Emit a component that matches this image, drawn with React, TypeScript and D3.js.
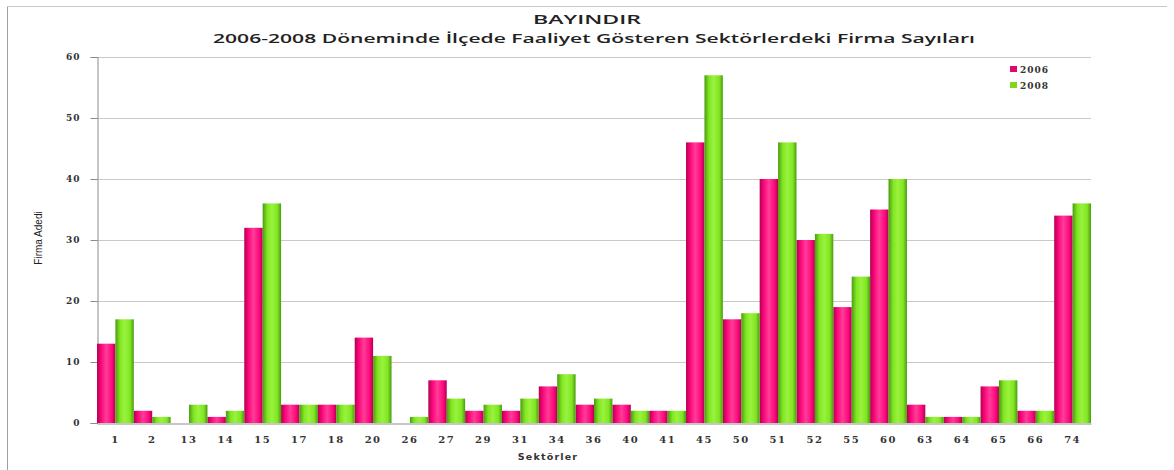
import * as d3 from "d3";
import { useEffect, useRef } from "react";

const sectors = ["1", "2", "13", "14", "15", "17", "18", "20", "26", "27", "29", "31", "34", "36", "40", "41", "45", "50", "51", "52", "55", "60", "63", "64", "65", "66", "74"];
const values2006 = [13, 2, 0, 1, 32, 3, 3, 14, 0, 7, 2, 2, 6, 3, 3, 2, 46, 17, 40, 30, 19, 35, 3, 1, 6, 2, 34];
const values2008 = [17, 1, 3, 2, 36, 3, 3, 11, 1, 4, 3, 4, 8, 4, 2, 2, 57, 18, 46, 31, 24, 40, 1, 1, 7, 2, 36];
const seriesNames = ["2006", "2008"];
const yTicks = [0, 10, 20, 30, 40, 50, 60];

export default function App() {
  const ref = useRef<SVGSVGElement>(null);

  useEffect(() => {
    if (!ref.current) return;
    const svg = d3.select(ref.current);
    svg.selectAll("*").remove();

    const width = 1174,
      height = 470,
      margin = { top: 57, right: 83, bottom: 47, left: 97 };

    const series = [values2006, values2008];

    // gradients for the cylinder look
    const defs = svg.append("defs");
    const grads = [
      { id: "gPink", edge: "#b4004f", mid: "#ff0a7e", light: "#ff3d98" },
      { id: "gGreen", edge: "#4c9a10", mid: "#80e622", light: "#9af23e" },
    ];
    grads.forEach((g) => {
      const lg = defs.append("linearGradient").attr("id", g.id).attr("x1", "0%").attr("x2", "100%");
      lg.append("stop").attr("offset", "0%").attr("stop-color", g.edge);
      lg.append("stop").attr("offset", "25%").attr("stop-color", g.mid);
      lg.append("stop").attr("offset", "50%").attr("stop-color", g.light);
      lg.append("stop").attr("offset", "80%").attr("stop-color", g.mid);
      lg.append("stop").attr("offset", "100%").attr("stop-color", g.edge);
    });
    const fills = ["url(#gPink)", "url(#gGreen)"];
    const legendColors = ["#e0086e", "#7fd61f"];

    // frame
    svg.append("line").attr("x1", 7.5).attr("x2", 7.5).attr("y1", 6).attr("y2", height)
      .attr("stroke", "#a0a0a0");
    svg.append("line").attr("x1", 7).attr("x2", 1167).attr("y1", 6.5).attr("y2", 6.5)
      .attr("stroke", "#c8c8c8");

    const x = d3.scaleBand<string>()
      .domain(sectors)
      .range([margin.left, width - margin.right])
      .paddingInner(0)
      .paddingOuter(0);

    const inner = d3.scaleBand<string>()
      .domain(seriesNames)
      .range([0, x.bandwidth()])
      .padding(0);

    const y = d3.scaleLinear()
      .domain([0, 60])
      .range([height - margin.bottom, margin.top]);

    // grid lines
    svg.append("g")
      .selectAll("line")
      .data(yTicks.filter((t) => t > 0))
      .join("line")
      .attr("x1", margin.left)
      .attr("x2", width - margin.right)
      .attr("y1", (d) => Math.round(y(d)) + 0.5)
      .attr("y2", (d) => Math.round(y(d)) + 0.5)
      .attr("stroke", "#c9c9c9")
      .attr("stroke-width", 1.2);

    // Y-axis
    const yAxis = svg.append("g")
      .attr("transform", `translate(${margin.left + 0.5}, 0)`)
      .call(d3.axisLeft(y).tickValues(yTicks).tickSize(7).tickPadding(10));
    yAxis.select(".domain").attr("stroke", "#8c8c8c");
    yAxis.selectAll(".tick line").attr("stroke", "#8c8c8c");
    yAxis.selectAll("text")
      .attr("fill", "#333")
      .attr("font-family", "'DejaVu Serif', serif")
      .attr("font-weight", "bold")
      .attr("font-size", "9px")
      .attr("letter-spacing", "1px");

    // bars
    seriesNames.forEach((name, si) => {
      svg.append("g")
        .selectAll("rect")
        .data(sectors.map((s, i) => ({ s, v: series[si][i] })))
        .join("rect")
        .attr("x", (d) => (x(d.s) as number) + (inner(name) as number))
        .attr("y", (d) => y(d.v))
        .attr("width", inner.bandwidth())
        .attr("height", (d) => y(0) - y(d.v))
        .attr("fill", fills[si]);
    });

    // X-axis
    const xAxis = svg.append("g")
      .attr("transform", `translate(0, ${y(0) + 0.5})`)
      .call(d3.axisBottom(x).tickSize(0).tickPadding(12));
    xAxis.select(".domain").attr("stroke", "#8c8c8c");
    xAxis.selectAll("text")
      .attr("fill", "#333")
      .attr("font-family", "'DejaVu Serif', serif")
      .attr("font-weight", "bold")
      .attr("font-size", "10px")
      .attr("letter-spacing", "1.5px");

    // titles
    svg.append("text")
      .attr("x", 587)
      .attr("y", 24)
      .attr("text-anchor", "middle")
      .attr("font-family", "'Open Sans', sans-serif")
      .attr("font-weight", 600)
      .attr("font-size", "13px")
      .attr("fill", "#222")
      .attr("textLength", 108)
      .attr("lengthAdjust", "spacingAndGlyphs")
      .text("BAYINDIR");
    svg.append("text")
      .attr("x", 594)
      .attr("y", 43)
      .attr("text-anchor", "middle")
      .attr("font-family", "'Open Sans', sans-serif")
      .attr("font-weight", 600)
      .attr("font-size", "13px")
      .attr("fill", "#222")
      .attr("textLength", 762)
      .attr("lengthAdjust", "spacingAndGlyphs")
      .text("2006-2008 Döneminde İlçede Faaliyet Gösteren Sektörlerdeki Firma Sayıları");

    // axis labels
    svg.append("text")
      .attr("transform", "rotate(-90)")
      .attr("x", -238)
      .attr("y", 42)
      .attr("text-anchor", "middle")
      .attr("font-family", "'Liberation Sans Narrow', 'Liberation Sans', sans-serif")
      .attr("font-size", "10px")
      .attr("fill", "#222")
      .text("Firma Adedi");
    svg.append("text")
      .attr("x", 548)
      .attr("y", 460)
      .attr("text-anchor", "middle")
      .attr("font-family", "'DejaVu Sans', sans-serif")
      .attr("font-weight", "bold")
      .attr("font-size", "9.5px")
      .attr("letter-spacing", "1.2px")
      .attr("fill", "#333")
      .text("Sektörler");

    // legend
    const legend = svg.append("g").attr("transform", "translate(1010, 70)");
    seriesNames.forEach((name, i) => {
      const g = legend.append("g").attr("transform", `translate(0, ${i * 16})`);
      g.append("rect").attr("x", 0).attr("y", -4).attr("width", 7).attr("height", 6)
        .attr("fill", legendColors[i]);
      g.append("text")
        .attr("x", 10)
        .attr("y", 0)
        .attr("dominant-baseline", "middle")
        .attr("font-family", "'DejaVu Serif', serif")
        .attr("font-weight", "bold")
        .attr("font-size", "9px")
        .attr("letter-spacing", "1px")
        .attr("fill", "#333")
        .text(name);
    });
  }, []);

  return (
    <svg
      ref={ref}
      width={1174}
      height={470}
      style={{ position: "absolute", left: 0, top: 0, background: "#fff" }}
    />
  );
}
